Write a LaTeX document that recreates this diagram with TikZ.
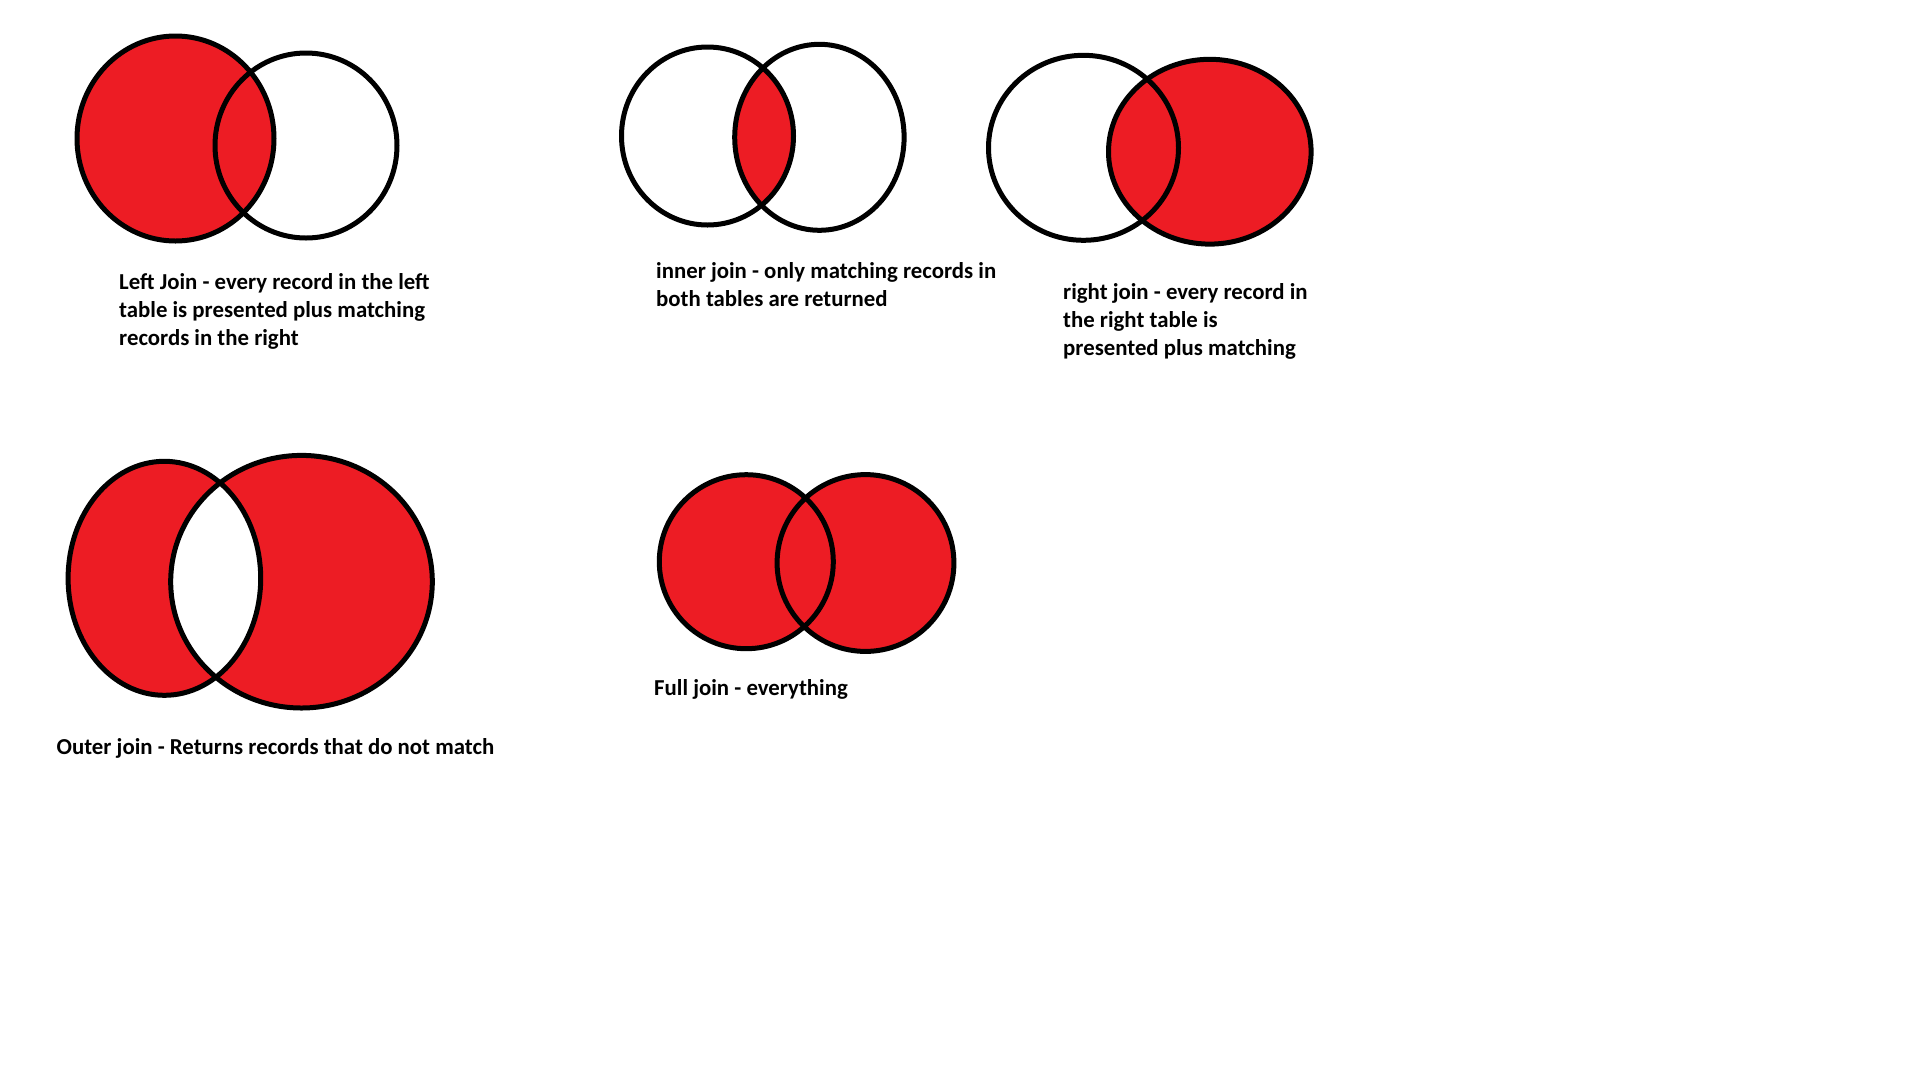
\documentclass[tikz,border=0pt]{standalone}
\usepackage{fontspec}
\setmainfont{Carlito}
\definecolor{joinred}{HTML}{ED1C24}
\begin{document}
\begin{tikzpicture}[x=1pt,y=-1pt,
  rim/.style={draw=black,line width=5pt},
  label/.style={anchor=base west,inner sep=0pt,align=left,
    font=\bfseries\fontsize{22.8}{28}\selectfont}]
\useasboundingbox[fill=white] (0,0) rectangle (1920,1080);

% left join (anchored on the baseline of the last line)
\fill[joinred] (175.5,138.5) ellipse [x radius=98.5,y radius=102.5];
\draw[rim] (175.5,138.5) ellipse [x radius=98.5,y radius=102.5];
\draw[rim] (306,145.5) ellipse [x radius=91,y radius=92.5];
\node[label] (leftjoin) at (119,345) {Left Join - every record in the left\\table is presented plus matching\\records in the right};

% inner join
\begin{scope}
  \clip (707.5,136) ellipse [x radius=86,y radius=89];
  \fill[joinred] (819.4,137.3) ellipse [x radius=84.7,y radius=93];
\end{scope}
\draw[rim] (707.5,136) ellipse [x radius=86,y radius=89];
\draw[rim] (819.4,137.3) ellipse [x radius=84.7,y radius=93];
\node[label] (innerjoin) at (656,306) {inner join - only matching records in\\both tables are returned};

% right join
\fill[joinred] (1209.8,151.7) ellipse [x radius=101.3,y radius=92.4];
\draw[rim] (1083.5,147.8) ellipse [x radius=95,y radius=92.5];
\draw[rim] (1209.8,151.7) ellipse [x radius=101.3,y radius=92.4];
\node[label] (rightjoin) at (1063,355) {right join - every record in\\the right table is\\presented plus matching};

% outer join
\fill[joinred,even odd rule] (164.4,578.3) ellipse [x radius=96.3,y radius=117]
  (301.5,581.7) ellipse [x radius=130.8,y radius=126.3];
\draw[rim] (164.4,578.3) ellipse [x radius=96.3,y radius=117];
\draw[rim] (301.5,581.7) ellipse [x radius=130.8,y radius=126.3];
\node[label] (outerjoin) at (56.5,754) {Outer join - Returns records that do not match};

% full join
\fill[joinred] (746.3,561.7) circle [radius=87];
\fill[joinred] (865.5,563) circle [radius=88.4];
\draw[rim] (746.3,561.7) circle [radius=87];
\draw[rim] (865.5,563) circle [radius=88.4];
\node[label] (fulljoin) at (654,695) {Full join - everything};
\end{tikzpicture}
\end{document}
